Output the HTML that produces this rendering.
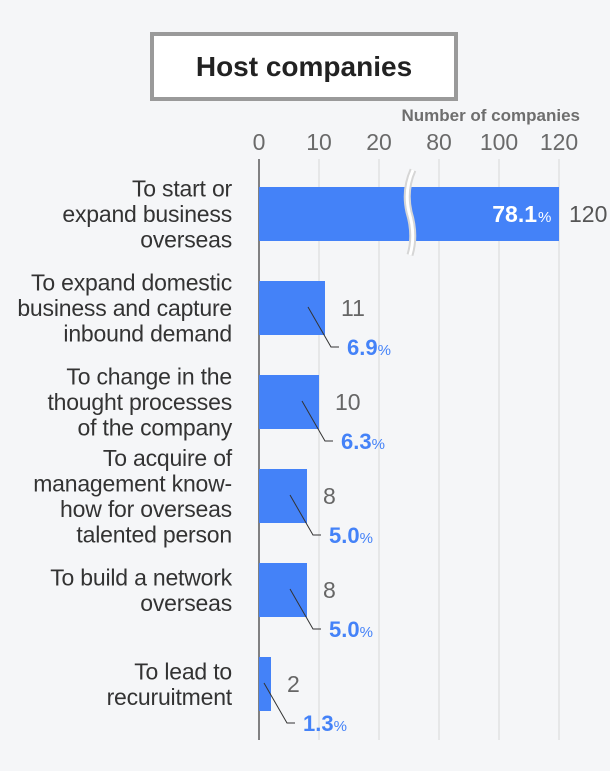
<!DOCTYPE html>
<html><head><meta charset="utf-8"><style>
body{margin:0;background:#f5f6f8;font-family:"Liberation Sans",sans-serif;}
#wrap{position:relative;width:610px;height:771px;overflow:hidden;background:#f5f6f8;}
#title{position:absolute;left:150px;top:32px;width:300px;height:61px;border:4px solid #9a9a9a;background:#fff;text-align:center;line-height:61px;font-weight:bold;font-size:28px;color:#222;}
</style></head><body>
<div id="wrap">
<div id="title">Host companies</div>
<svg id="svg" width="610" height="771" style="position:absolute;left:0;top:0"></svg>
</div>
<script>
const categories=[["To start or","expand business","overseas"],["To expand domestic","business and capture","inbound demand"],["To change in the","thought processes","of the company"],["To acquire of","management know-","how for overseas","talented person"],["To build a network","overseas"],["To lead to","recuruitment"]];
const values=[120,11,10,8,8,2];
const percents=["78.1","6.9","6.3","5.0","5.0","1.3"];
const tickValues=[0,10,20,80,100,120];
const NS="http://www.w3.org/2000/svg";
const svg=document.getElementById('svg');
function x(v){return v<=25?259+v*6:439+(v-80)*3;}
function yTop(i){return 187+i*94;}
function mk(t,a,txt){const e=document.createElementNS(NS,t);for(const k in a)e.setAttribute(k,a[k]);if(txt!==undefined)e.textContent=txt;svg.appendChild(e);return e;}
let e=mk('text',{x:580,y:121,'text-anchor':'end','font-size':17,'font-weight':'bold',fill:'#6e6e6e'},'Number of companies');


tickValues.forEach(v=>{
  const g=mk('line',{x1:x(v),x2:x(v),y1:159,y2:740,stroke:v===0?'#333':'#d8d8d8','stroke-width':v===0?1.2:1});
  
  
  const t=mk('text',{x:x(v),y:150,'text-anchor':'middle','font-size':23,fill:'#6a6a6a'},String(v));
  
  
});
values.forEach((v,i)=>{
  const y0=yTop(i),h=54,cy=y0+h/2;
  const b=mk('rect',{x:259,y:y0,width:x(v)-259,height:h,fill:'#4482f8'});
  
  
  const lines=categories[i];const lh=25.5;
  const start=cy-(lines.length-1)*lh/2+8;
  const lt=mk('text',{x:232,'text-anchor':'end','font-size':23,fill:'#333','letter-spacing':'-0.2'});
  
  
  lines.forEach((l,k)=>{const s=document.createElementNS(NS,'tspan');s.setAttribute('x',232);s.setAttribute('y',start+k*lh);s.textContent=l;lt.appendChild(s);});
  if(v>25){
    const br=mk('path',{d:`M413 170 Q404 190 409 212 Q416 235 410 255`,stroke:'#d6d6d6','stroke-width':7,fill:'none'});
    
    
    const br2=mk('path',{d:`M413 170 Q404 190 409 212 Q416 235 410 255`,stroke:'#fff','stroke-width':3,fill:'none'});
    
    
    const vt=mk('text',{x:x(v)+10,y:cy+8,'font-size':23,fill:'#555'},String(v));
    
    
    const pt=mk('text',{x:x(v)-22,y:cy+8,'text-anchor':'end','font-size':23,'font-weight':'bold',fill:'#fff'},percents[i]);
    
    
    const ps=mk('text',{x:x(v)-21,y:cy+8,'font-size':15,fill:'#fff'},'%');
    
    
  } else {
    const xe=x(v);
    const xs=Math.max(264,xe-17);
    const ll=mk('polyline',{points:`${xs},${cy-1} ${xs+23},${cy+39} ${xs+31},${cy+39}`,stroke:'#333','stroke-width':1,fill:'none'});
    
    
    const vt=mk('text',{x:xe+16,y:cy+8,'font-size':23,fill:'#666'},String(v));
    
    
    const pt=mk('text',{x:xs+39,y:cy+47,'font-size':22,'font-weight':'bold',fill:'#4482f8'});
    
    
    pt.textContent=percents[i];
    const s=document.createElementNS(NS,'tspan');s.setAttribute('font-size',15);s.setAttribute('font-weight','normal');s.textContent='%';pt.appendChild(s);
  }
});
</script>
</body></html>
